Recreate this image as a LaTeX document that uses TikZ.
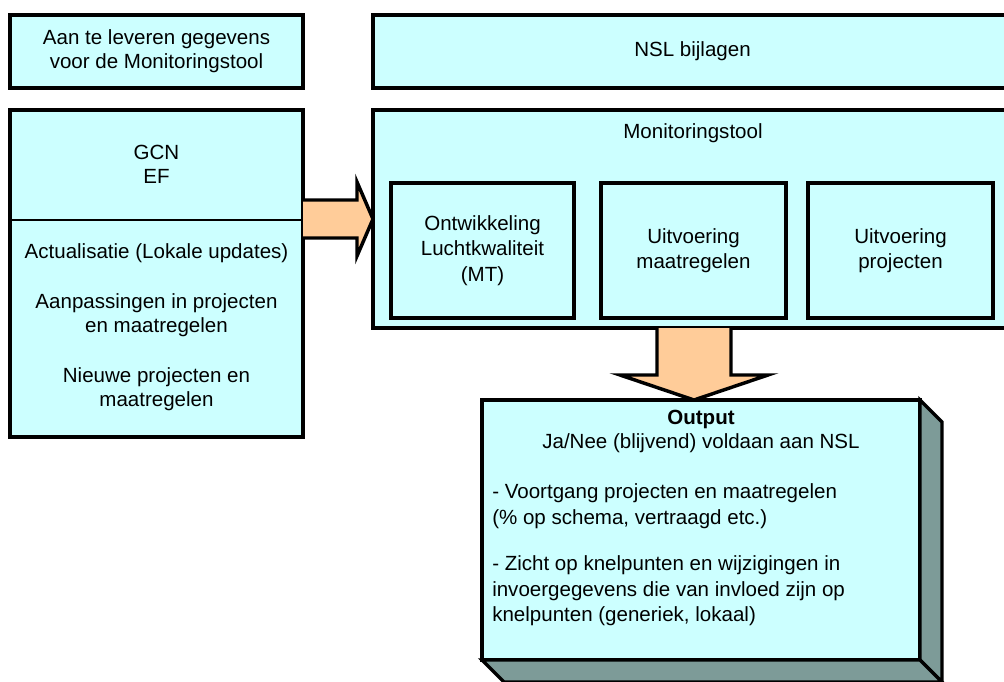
\documentclass[tikz,border=0pt]{standalone}
\usepackage{fontspec}
\setmainfont{Liberation Sans}
\usetikzlibrary{calc}

\definecolor{boxcyan}{RGB}{204,255,255}
\definecolor{arrowpeach}{RGB}{255,204,153}
\definecolor{sidegray}{RGB}{125,155,152}

\tikzset{
  blok/.style={draw, line width=2.8pt, fill=boxcyan, inner sep=0pt, outer sep=0pt, anchor=north west},
  maat/.style 2 args={minimum width=#1, minimum height=#2},
  tekst/.style={align=center, inner sep=0pt, font=\fontsize{15.4}{18}\selectfont},
  pijl/.style={draw, line width=2.6pt, fill=arrowpeach, line join=miter},
  zijvlak/.style={draw, line width=2.6pt, fill=sidegray, line join=miter}
}

\begin{document}
\begin{tikzpicture}[x=0.75pt, y=-0.75pt]
  \useasboundingbox (0,0) rectangle (1004,682);
  \clip (0,0) rectangle (1004,682);

  % top row
  \node[blok, maat={219.75pt}{54.75pt}] (aan) at (10,15) {};
  \node[tekst] (aantekst) at (aan.center) {Aan te leveren gegevens\\voor de Monitoringstool};
  \node[blok, maat={479.25pt}{54.75pt}] (nsl) at (373,15) {};
  \node[tekst] (nsltekst) at (nsl.center) {NSL bijlagen};

  % input box with divider
  \node[blok, maat={219.75pt}{245.25pt}] (gcn) at (10,110) {};
  \draw[line width=2.2pt] (gcn.west |- 0,220) -- (gcn.east |- 0,220);
  \node[tekst] (gcntekst) at (156.5,164) {GCN\\EF};
  \node[tekst] (updtekst) at (156.5,327) {Actualisatie (Lokale updates)\\[19.5pt]Aanpassingen in projecten\\en maatregelen\\[19.5pt]Nieuwe projecten en\\maatregelen};

  % monitoringstool
  \node[blok, maat={479.25pt}{163.5pt}] (mt) at (373,110) {};
  \node[tekst] (mttekst) at (693,133) {Monitoringstool};
  \node[blok, maat={137.25pt}{101.25pt}] (ontw) at (391,183) {};
  \node[tekst, font=\fontsize{15.4}{19}\selectfont] at (ontw.center) {Ontwikkeling\\Luchtkwaliteit\\(MT)};
  \node[blok, maat={138.75pt}{101.25pt}] (uitmaat) at (601,183) {};
  \node[tekst, font=\fontsize{15.4}{19}\selectfont] at (uitmaat.center) {Uitvoering\\maatregelen};
  \node[blok, maat={138.75pt}{101.25pt}] (uitproj) at (808,183) {};
  \node[tekst, font=\fontsize{15.4}{19}\selectfont] at (uitproj.center) {Uitvoering\\projecten};

  % output box (3D)
  \node[blok, maat={328.5pt}{195pt}] (out) at (482,400) {};
  \draw[zijvlak] (out.north east) -- ++(22,22) -- ++(0,260) -- (out.south east) -- cycle;
  \draw[zijvlak] (out.south west) -- (out.south east) -- ++(22,22) -- ($(out.south west)+(22,22)$) -- cycle;
  \node[tekst] (outkop) at (701,431.5) {\textbf{Output}\\Ja/Nee (blijvend) voldaan aan NSL};
  \node[tekst, align=left, anchor=west, font=\fontsize{15.4}{19}\selectfont] (outlijst) at (492,555)
    {- Voortgang projecten en maatregelen\\(\% op schema, vertraagd etc.)\\[16pt]- Zicht op knelpunten en wijzigingen in\\invoergegevens die van invloed zijn op\\knelpunten (generiek, lokaal)};

  % arrows
  \coordinate (pa) at (gcn.east |- mt.west);
  \draw[pijl] ($(pa)+(0,-19)$) -- ($(pa)+(54,-19)$) -- ($(pa)+(54,-37)$) -- (mt.west)
    -- ($(pa)+(54,37)$) -- ($(pa)+(54,19)$) -- ($(pa)+(0,19)$);
  \coordinate (pb) at (694,0 |- mt.south);
  \draw[pijl] ($(pb)+(-37,0)$) -- ($(pb)+(-37,47)$) -- ($(pb)+(-74,47)$) -- (pb |- out.north)
    -- ($(pb)+(74,47)$) -- ($(pb)+(37,47)$) -- ($(pb)+(37,0)$);
\end{tikzpicture}
\end{document}
